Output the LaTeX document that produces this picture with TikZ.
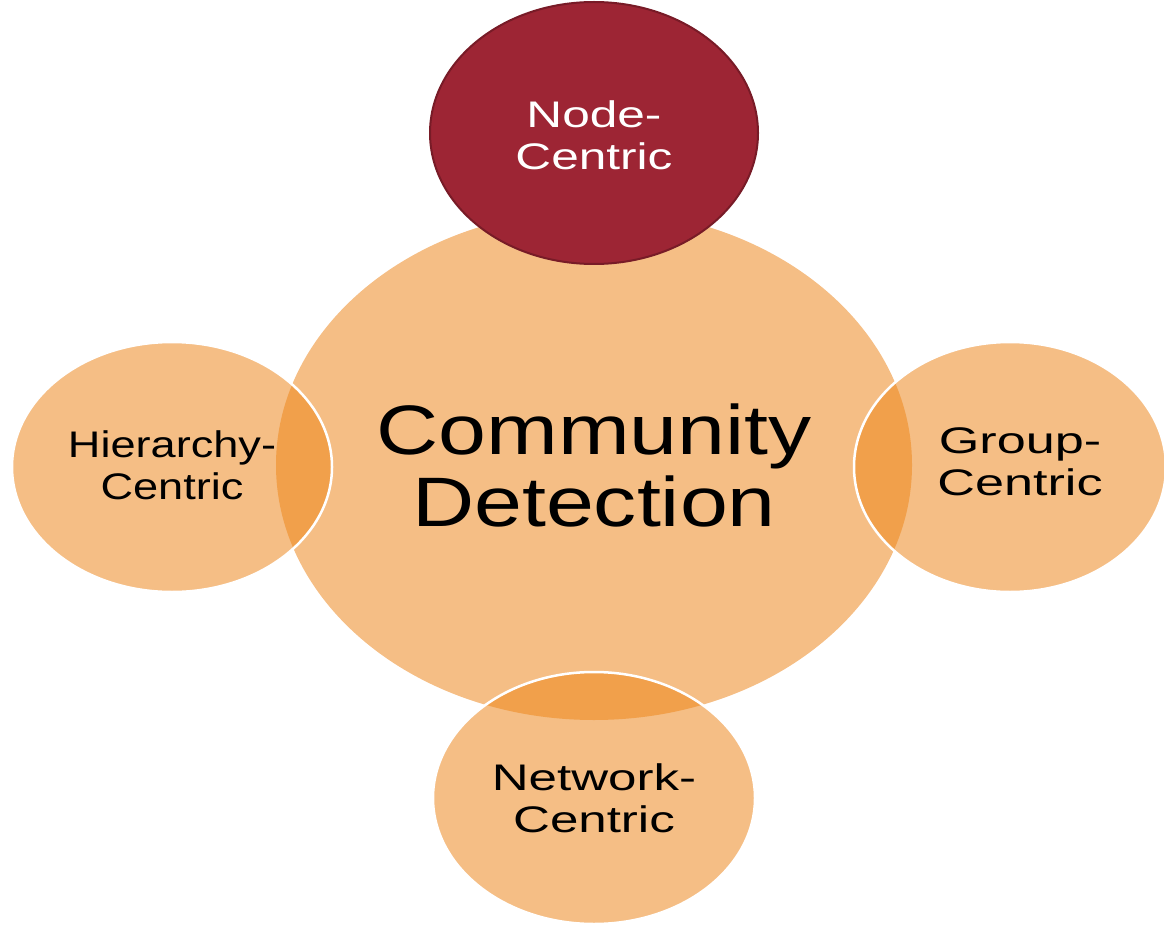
\documentclass[tikz,border=0pt]{standalone}
\usepackage{fontspec}
\setmainfont{Liberation Sans}
\usepackage{graphicx}
\definecolor{lightor}{HTML}{F5BE85}
\definecolor{darkor}{HTML}{F1A04B}
\definecolor{wine}{HTML}{9D2534}
\definecolor{wineedge}{HTML}{781B27}
\newcommand\sxx[2]{\scalebox{#1}[1]{#2}}
\tikzset{
  outer/.style={fill=lightor},
  rim/.style={draw=white, line width=2.5pt},
  lab/.style={align=center, inner sep=0pt, text=black, font=\fontsize{37}{42}\selectfont},
}
\begin{document}
\begin{tikzpicture}[x=1pt,y=1pt]
\useasboundingbox (0,0) rectangle (1164,-925);
\begin{scope}[yscale=-1]
  % central
  \fill[lightor] (594,465) ellipse [x radius=318, y radius=255];
  % outer light fills
  \fill[lightor] (172,467) ellipse [x radius=160, y radius=125];
  \fill[lightor] (1010,467) ellipse [x radius=156, y radius=125];
  \fill[lightor] (594,798) ellipse [x radius=161, y radius=126];
  % overlaps
  \begin{scope}
    \clip (594,465) ellipse [x radius=318, y radius=255];
    \fill[darkor] (172,467) ellipse [x radius=160, y radius=125];
    \fill[darkor] (1010,467) ellipse [x radius=156, y radius=125];
    \fill[darkor] (594,798) ellipse [x radius=161, y radius=126];
  \end{scope}
  % white rims
  \draw[rim] (172,467) ellipse [x radius=160, y radius=125];
  \draw[rim] (1010,467) ellipse [x radius=156, y radius=125];
  \draw[rim] (594,798) ellipse [x radius=161, y radius=126];
  % top red
  \filldraw[fill=wine, draw=wineedge, line width=2pt] (594,133) ellipse [x radius=164, y radius=131];
  % texts
  \node[inner sep=0pt, align=center, font=\fontsize{70}{72}\selectfont] (cd) at (594,465)
    {\sxx{1.23}{Community}\\\sxx{1.23}{Detection}};
  \node[lab, text=white] (nc) at (594,135) {\sxx{1.34}{Node-}\\\sxx{1.34}{Centric}};
  \node[lab] (hc) at (172,465) {\sxx{1.22}{Hierarchy-}\\\sxx{1.22}{Centric}};
  \node[lab] (gc) at (1020,462) {\sxx{1.41}{Group-}\\\sxx{1.41}{Centric}};
  \node[lab] (nw) at (594,798) {\sxx{1.38}{Network-}\\\sxx{1.38}{Centric}};
\end{scope}
\end{tikzpicture}
\end{document}
